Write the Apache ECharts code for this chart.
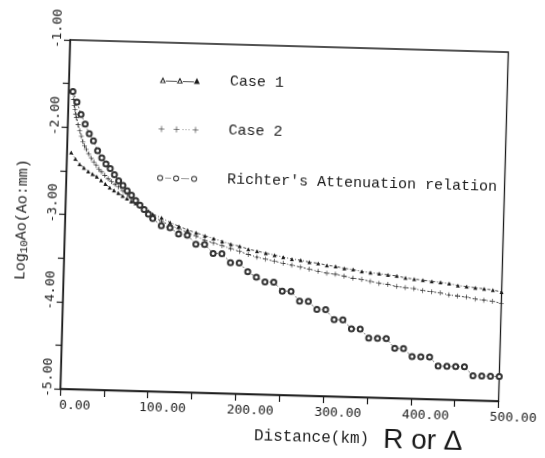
<!DOCTYPE html>
<html>
<head>
<meta charset="utf-8">
<script src="https://cdn.jsdelivr.net/npm/echarts@6.0.0/dist/echarts.min.js"></script>
<style>
  html, body { margin: 0; padding: 0; background: #fff; overflow: hidden; }
  /* the scanned figure sits slightly tilted */
  #chart { width: 545px; height: 458px; transform: rotate(1.6deg); transform-origin: 286px 221px; }
</style>
</head>
<body>
<div id="chart"></div>
<script>
// distances (km) for Case 1 and Richter's relation
const distA = [5, 10, 15, 20, 25, 30, 35, 40, 45, 50, 55, 60, 65, 70, 75, 80, 85, 90, 95, 100,
  110, 120, 130, 140, 150, 160, 170, 180, 190, 200, 210, 220, 230, 240, 250, 260, 270, 280, 290, 300,
  310, 320, 330, 340, 350, 360, 370, 380, 390, 400, 410, 420, 430, 440, 450, 460, 470, 480, 490, 500]

// distances (km) for Case 2 (denser close in)
const distB = [5, 6, 7, 8, 9, 10, 12, 14, 16, 18, 20, 22, 25, 28, 31, 34, 37, 40, 44, 48, 52, 56, 60,
  65, 70, 75, 80, 85, 90, 95, 100,
  110, 120, 130, 140, 150, 160, 170, 180, 190, 200, 210, 220, 230, 240, 250, 260, 270, 280, 290, 300,
  310, 320, 330, 340, 350, 360, 370, 380, 390, 400, 410, 420, 430, 440, 450, 460, 470, 480, 490, 500]

const case1 = [-2.29, -2.36, -2.42, -2.46, -2.50, -2.53, -2.56, -2.60, -2.64, -2.68,
  -2.71, -2.74, -2.77, -2.80, -2.83, -2.85, -2.88, -2.91, -2.94, -2.97,
  -3.01, -3.06, -3.10, -3.14, -3.17, -3.20, -3.23, -3.26, -3.29, -3.31,
  -3.34, -3.36, -3.38, -3.40, -3.42, -3.44, -3.45, -3.47, -3.48, -3.50,
  -3.51, -3.53, -3.54, -3.56, -3.57, -3.58, -3.59, -3.60, -3.62, -3.63,
  -3.64, -3.65, -3.66, -3.67, -3.69, -3.70, -3.71, -3.72, -3.73, -3.75]

const case2 = [-1.59, -1.68, -1.75, -1.80, -1.85, -1.89, -1.97, -2.04, -2.10, -2.16, -2.21, -2.25,
  -2.30, -2.35, -2.39, -2.43, -2.47, -2.50, -2.54, -2.58, -2.61, -2.64, -2.67,
  -2.71, -2.75, -2.80, -2.84, -2.88, -2.91, -2.95, -2.99,
  -3.05, -3.09, -3.13, -3.17, -3.21, -3.25, -3.28, -3.31, -3.34, -3.37,
  -3.40, -3.43, -3.45, -3.47, -3.49, -3.51, -3.53, -3.55, -3.57, -3.59,
  -3.60, -3.62, -3.64, -3.65, -3.67, -3.69, -3.70, -3.72, -3.73, -3.74,
  -3.76, -3.77, -3.78, -3.80, -3.81, -3.82, -3.84, -3.85, -3.86, -3.88]

const richter = [-1.59, -1.71, -1.85, -1.96, -2.07, -2.15, -2.26, -2.34, -2.41, -2.46,
  -2.53, -2.60, -2.65, -2.71, -2.76, -2.82, -2.87, -2.92, -2.97, -3.02,
  -3.10, -3.12, -3.19, -3.20, -3.30, -3.30, -3.40, -3.40, -3.50, -3.50,
  -3.60, -3.66, -3.71, -3.71, -3.81, -3.81, -3.92, -3.92, -4.01, -4.01,
  -4.12, -4.12, -4.22, -4.22, -4.32, -4.32, -4.32, -4.43, -4.43, -4.52,
  -4.52, -4.52, -4.62, -4.62, -4.62, -4.62, -4.72, -4.72, -4.72, -4.72]

const seriesNames = ['Case 1', 'Case 2', "Richter's Attenuation relation"]

const ink = '#1a1a1a'
const plusSymbol = 'path://M0,4.4H10V5.6H0Z M4.4,0H5.6V10H4.4Z'

// legend icons: three little markers joined by a line
const iconCase1 = 'path://M0,7L3,1L6,7Z M1.6,6.2L4.4,6.2L3,3.2Z M17,7L20,1L23,7Z M18.6,6.2L21.4,6.2L20,3.2Z M34,7L37,1L40,7Z M6,4.6H17V5.2H6Z M23,4.6H34V5.2H23Z'
const iconCase2 = 'path://M0,3.2H6V3.8H0Z M2.7,0.5H3.3V6.5H2.7Z M15,3.2H21V3.8H15Z M17.7,0.5H18.3V6.5H17.7Z M34,3.2H40V3.8H34Z M36.7,0.5H37.3V6.5H36.7Z M24,3.2H25V3.8H24Z M27,3.2H28V3.8H27Z M30,3.2H31V3.8H30Z'
const iconRichter = 'path://M0,3.5A3,3 0 1 1 6,3.5A3,3 0 1 1 0,3.5Z M1,3.5A2,2 0 1 0 5,3.5A2,2 0 1 0 1,3.5Z M16,3.5A3,3 0 1 1 22,3.5A3,3 0 1 1 16,3.5Z M17,3.5A2,2 0 1 0 21,3.5A2,2 0 1 0 17,3.5Z M34,3.5A3,3 0 1 1 40,3.5A3,3 0 1 1 34,3.5Z M35,3.5A2,2 0 1 0 39,3.5A2,2 0 1 0 35,3.5Z M8,3.2H14V3.8H8Z M24,3.2H32V3.8H24Z'

function pairs(xs, ys) {
  return xs.map((x, i) => [x, ys[i]])
}

const chart = echarts.init(document.getElementById('chart'))

chart.setOption({
  animation: false,
  backgroundColor: '#fff',
  grid: {
    left: 65, top: 46, width: 441, height: 349,
    show: true, borderColor: ink, borderWidth: 1.3,
  },
  legend: {
    orient: 'vertical',
    left: 151, top: 71,
    itemWidth: 40, itemHeight: 7, itemGap: 34,
    textStyle: { fontFamily: 'Liberation Mono', fontSize: 15, color: ink, padding: [0, 0, 0, 25] },
    data: [
      { name: seriesNames[0], icon: iconCase1 },
      { name: seriesNames[1], icon: iconCase2 },
      { name: seriesNames[2], icon: iconRichter },
    ],
  },
  xAxis: {
    type: 'value',
    min: 0, max: 500, interval: 50,
    axisLine: { lineStyle: { color: ink, width: 1.3 } },
    axisTick: { length: 7, lineStyle: { color: ink, width: 1.2 } },
    splitLine: { show: false },
    axisLabel: {
      margin: 10,
      fontFamily: 'DejaVu Sans Mono', fontSize: 13, color: '#222',
      padding: [0, 0, 0, 30],
      formatter: (v) => (v % 100 === 0 ? v.toFixed(2) : ''),
    },
    name: '{s|}{a|Distance(km)}{g|}{b|R or Δ}',
    nameLocation: 'middle',
    nameGap: 26,
    nameTextStyle: {
      rich: {
        s: { width: 160 },
        a: { fontFamily: 'Liberation Mono', fontSize: 16, color: '#222' },
        g: { width: 14 },
        b: { fontFamily: 'Liberation Sans', fontSize: 28, color: ink },
      },
    },
  },
  yAxis: {
    type: 'value',
    min: -5, max: -1, interval: 0.5,
    axisLine: { show: true, lineStyle: { color: ink, width: 1.3 } },
    axisTick: { show: true, length: 6, lineStyle: { color: ink, width: 1.2 } },
    splitLine: { show: false },
    axisLabel: {
      rotate: 90,
      margin: 6,
      align: 'center',
      verticalAlign: 'bottom',
      padding: [0, 0, 0, 22],
      fontFamily: 'DejaVu Sans Mono', fontSize: 13, color: '#222',
      formatter: (v) => (Math.abs(v % 1) < 1e-9 ? v.toFixed(2) : ''),
    },
    name: '{a|Log}{s|10}{a|Ao(Ao:mm)}',
    nameLocation: 'middle',
    nameRotate: 90,
    nameGap: 34,
    nameTextStyle: {
      padding: [0, 13, 0, 0],
      rich: {
        a: { fontFamily: 'Liberation Mono', fontSize: 15, color: '#222' },
        s: { fontFamily: 'Liberation Mono', fontSize: 11, color: '#222', padding: [7, 0, 0, 0] },
      },
    },
  },
  series: [
    {
      name: seriesNames[0],
      type: 'line',
      data: pairs(distA, case1),
      symbol: 'triangle',
      symbolSize: 4,
      itemStyle: { color: ink },
      lineStyle: { color: ink, width: 0.8, type: [3, 2, 1, 2] },
    },
    {
      name: seriesNames[1],
      type: 'line',
      data: pairs(distB, case2),
      symbol: plusSymbol,
      symbolSize: 5,
      itemStyle: { color: ink },
      lineStyle: { color: ink, width: 0.8, type: [2, 2, 1, 2] },
    },
    {
      name: seriesNames[2],
      type: 'line',
      data: pairs(distA, richter),
      symbol: 'emptyCircle',
      symbolSize: 5,
      itemStyle: { color: '#333', borderWidth: 0.7 },
      lineStyle: { color: ink, width: 0.7, type: [2, 2] },
      z: 3,
    },
  ],
})
</script>
</body>
</html>
